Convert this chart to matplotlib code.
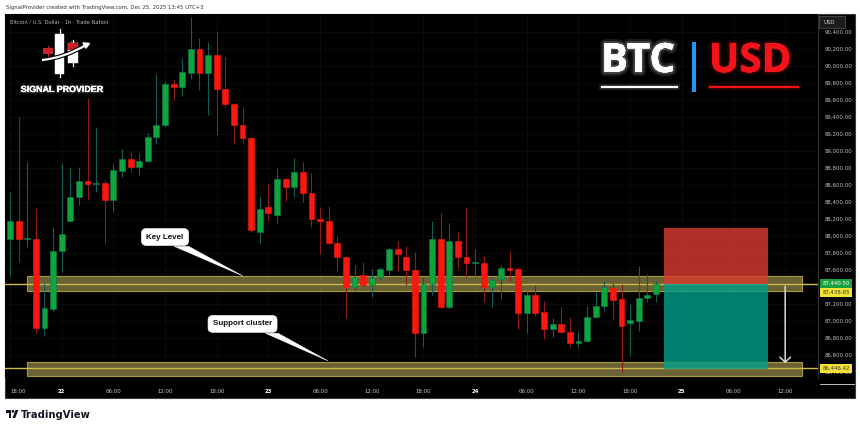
import numpy as np
import matplotlib
matplotlib.use("Agg")
import matplotlib.pyplot as plt
import matplotlib.transforms as mtransforms
import matplotlib.patheffects as pe
from matplotlib.patches import Rectangle, Polygon, Circle, PathPatch, FancyArrowPatch
from matplotlib.lines import Line2D
from matplotlib.path import Path

# ---------------- data (BTC/USD, 1h, from Dec 21 18:00) ----------------
opens = [87965, 88176, 87960, 87965, 86918, 87141, 87824, 88176, 88459, 88647,
         88612, 88624, 88424, 88765, 88906, 88812, 88882, 89165, 89306, 89788,
         89753, 89918, 90200, 89918, 90129, 89729, 89553, 89306, 89153, 88047,
         88341, 88247, 88671, 88576, 88753, 88506, 88200, 88176, 87918, 87753,
         87400, 87541, 87424, 87518, 87600, 87847, 87753, 87600, 86859, 87435,
         87965, 87165, 87941, 87753, 87682, 87682, 87400, 87494, 87624, 87612,
         87094, 87306, 87106, 86906, 86965, 86871, 86741, 86765, 87047, 87176,
         87388, 87259, 86976, 87000, 87271, 87318]
closes = [88176, 87965, 87975, 86918, 87153, 87824, 88024, 88459, 88647, 88612,
          88624, 88424, 88776, 88906, 88812, 88882, 89165, 89306, 89788, 89753,
          89929, 90200, 89918, 90129, 89729, 89553, 89306, 89153, 88071, 88318,
          88271, 88671, 88576, 88753, 88506, 88200, 88182, 87918, 87753, 87400,
          87518, 87424, 87506, 87612, 87847, 87788, 87600, 86859, 87435, 87965,
          87165, 87941, 87753, 87682, 87694, 87400, 87482, 87624, 87600, 87094,
          87306, 87094, 86906, 86965, 86871, 86741, 86765, 87047, 87176, 87400,
          87247, 86941, 87012, 87271, 87306, 87440.5]
highs = [88518, 89400, 88871, 88329, 87447, 88106, 88859, 88812, 88812, 89624,
         89282, 88659, 88859, 89024, 88988, 88976, 89212, 89906, 89824, 89847,
         90094, 90576, 90329, 90282, 90412, 90106, 89565, 89518, 89165, 88459,
         88624, 88800, 88682, 88918, 88871, 88741, 88341, 88353, 88000, 87765,
         87659, 87694, 87612, 87635, 87871, 87941, 87882, 87812, 87518, 88176,
         88271, 88153, 88047, 88341, 87847, 87765, 87518, 87659, 87824, 87635,
         87353, 87424, 87235, 87035, 87165, 87047, 86871, 87176, 87341, 87471,
         87447, 87435, 87188, 87647, 87553, 87471]
lows = [87529, 87694, 87871, 86859, 86823, 87106, 87576, 88165, 88365, 88424,
        88518, 87918, 88282, 88694, 88753, 88718, 88871, 89082, 89282, 89600,
        89647, 89847, 89718, 89424, 89188, 89518, 89082, 89094, 88047, 87918,
        88188, 88153, 88412, 88459, 88400, 88106, 87788, 87906, 87588, 87035,
        87353, 87400, 87282, 87482, 87541, 87588, 87424, 86576, 86694, 87306,
        87153, 87141, 87624, 87518, 87518, 87224, 87165, 87259, 87471, 86906,
        86859, 87059, 86788, 86812, 86859, 86694, 86694, 86753, 87035, 87118,
        87024, 86400, 86588, 86882, 87224, 87224]

time_tick_hours = [0, 6, 12, 18, 24, 30, 36, 42, 48, 54, 60, 66, 72, 78, 84, 90]
time_tick_labels = ["18:00", "22", "06:00", "12:00", "18:00", "23", "06:00", "12:00",
                    "18:00", "24", "06:00", "12:00", "18:00", "25", "06:00", "12:00"]
day_labels = ["22", "23", "24", "25"]
price_ticks = list(range(86400, 90401, 200))

key_level = 87438.65
key_zone = [87353, 87529]
support_level = 86446.42
support_zone = [86353, 86518]
last_price = 87440.50
zone_hours = [2, 92]

pos_hours = [75.9, 88.0]
pos_entry = 87440.50
pos_stop = 88095
pos_target = 86440
arrow_hour = 90
arrow_end = 86470

key_label = "Key Level"
key_label_at = [18.0, 87988]
key_tip = [27.05, 87529]
support_label = "Support cluster"
support_label_at = [27.0, 86965]
support_tip = [36.95, 86529]

# ---------------- figure ----------------
W, H = 860, 430
fig = plt.figure(figsize=(W / 100, H / 100), dpi=100, facecolor="white")
pxT = mtransforms.Affine2D().scale(1 / W, -1 / H).translate(0, 1) + fig.transFigure


def ftext(x, y, s, **kw):
    return fig.text(x / W, 1 - y / H, s, **kw)


# dark chart panel
fig.add_artist(Rectangle((5, 14), 850, 384, transform=pxT, facecolor="black",
                         edgecolor="#3a3a3a", lw=0.8, zorder=-1))

ax = fig.add_axes([5 / W, 1 - 378 / H, 813 / W, 364 / H])
ax.set_facecolor("black")
ax.set_xlim(-0.58, 93.81)
ax.set_ylim(86329, 90612)
for s in ["top", "left", "bottom"]:
    ax.spines[s].set_visible(False)
ax.spines["right"].set_color("#2e2e2e")
ax.spines["right"].set_linewidth(0.8)
ax.grid(True, color="#0d0d0d", lw=0.6)
ax.set_axisbelow(True)

# axes ticks
ax.yaxis.tick_right()
ax.set_yticks(price_ticks)
ax.set_yticklabels([f"{p:,.2f}" for p in price_ticks])
ax.set_xticks(time_tick_hours)
ax.set_xticklabels(time_tick_labels)
ax.tick_params(axis="y", length=0, pad=5, labelsize=3.9, labelcolor="#c4c4c4")
ax.tick_params(axis="x", length=0, pad=8, labelsize=3.9, labelcolor="#c4c4c4")
xlabs = ax.get_xticklabels()
for lab in xlabs:
    if lab.get_text() in day_labels:
        lab.set_color("white")
        lab.set_fontweight("bold")
xlabs[0].set_horizontalalignment("left")

# zones and levels
ax.add_patch(Rectangle((zone_hours[0], key_zone[0]), zone_hours[1] - zone_hours[0],
                       key_zone[1] - key_zone[0], facecolor="#6a6234",
                       edgecolor="#a99b3c", lw=0.8, zorder=1))
ax.add_patch(Rectangle((zone_hours[0], support_zone[0]), zone_hours[1] - zone_hours[0],
                       support_zone[1] - support_zone[0], facecolor="#6a6234",
                       edgecolor="#a99b3c", lw=0.8, zorder=1))
ax.axhline(key_level, color="#cdbb4c", lw=1.0, zorder=1.5)
ax.axhline(support_level, color="#cdbb4c", lw=1.0, zorder=1.5)

# candles
o = np.array(opens, float)
c = np.array(closes, float)
hi = np.array(highs, float)
lo = np.array(lows, float)
x = np.arange(len(o))
up = c >= o
body_col = np.where(up, "#10a53a", "#f8180f")
edge_col = np.where(up, "#0d7a55", "#f8180f")
wick_col = np.where(up, "#135e57", "#8e1c17")
ax.vlines(x, lo, hi, colors=wick_col, lw=0.8, zorder=3)
heights = np.maximum(np.abs(c - o), 12)
ax.bar(x, heights, bottom=np.minimum(o, c), width=0.68, color=body_col,
       edgecolor=edge_col, lw=0.4, zorder=4)

# short position tool
ax.add_patch(Rectangle((pos_hours[0], pos_entry), pos_hours[1] - pos_hours[0],
                       pos_stop - pos_entry, facecolor="#dc3a30", alpha=0.8,
                       edgecolor="none", zorder=2))
ax.add_patch(Rectangle((pos_hours[0], pos_target), pos_hours[1] - pos_hours[0],
                       pos_entry - pos_target, facecolor="#00a08a", alpha=0.8,
                       edgecolor="none", zorder=2))
ax.add_patch(FancyArrowPatch((arrow_hour, pos_entry), (arrow_hour, arrow_end),
                             arrowstyle="->,head_length=3.6,head_width=3.8",
                             color="#d9d9d9", lw=1.1, zorder=6))

# callouts
for label, at, tip, base in [(key_label, key_label_at, key_tip, 1.7),
                             (support_label, support_label_at, support_tip, 1.5)]:
    ax.text(at[0], at[1], label, ha="center", va="center", fontsize=5.8,
            fontweight="bold", family="Liberation Sans", color="#111111",
            bbox=dict(boxstyle="round,pad=0.6,rounding_size=0.55", fc="white",
                      ec="white", lw=0.5), zorder=8)
    bx = at[0] + (1.9 if label == key_label else 3.4)
    by = at[1] - 110
    ax.add_patch(Polygon([(bx - base / 2, by), (bx + base / 2, by), (tip[0], tip[1])],
                         closed=True, facecolor="white", edgecolor="white", lw=0.3,
                         zorder=7))

# price tags on the right scale
blend = mtransforms.blended_transform_factory(ax.transAxes, ax.transData)
tag_x0 = (820 - 5) / 813
tag_w = 32 / 813
for price, shown, fc, tc in [(last_price, last_price, "#17a23c", "#ffffff"),
                             (key_level, key_level - 104, "#f1e235", "#3a3a2a"),
                             (support_level, support_level, "#f1e235", "#3a3a2a")]:
    ax.add_patch(Rectangle((tag_x0, shown - 53), tag_w, 106, transform=blend,
                           facecolor=fc, edgecolor="none", clip_on=False, zorder=9))
    ax.text(tag_x0 + tag_w / 2, shown, f"{price:,.2f}", transform=blend, ha="center",
            va="center", fontsize=3.9, color=tc, clip_on=False, zorder=10)

# USD box on price scale
fig.add_artist(Rectangle((819, 16), 26, 12, transform=pxT, facecolor="#1c1c1c",
                         edgecolor="#4a4a4a", lw=0.6, zorder=5))
ftext(823, 22.5, "USD", fontsize=3.9, color="#d0d0d0", va="center", ha="left", zorder=6)
fig.add_artist(Line2D([820, 854], [384, 384], transform=pxT, color="#bdbdbd", lw=0.7, zorder=5))

# header texts
ftext(6, 7, "SignalProvider created with TradingView.com, Dec 25, 2025 13:45 UTC+3",
      fontsize=3.9, color="#333333", va="center", ha="left")
ftext(10, 22, "Bitcoin / U.S. Dollar \u00b7 1h \u00b7 Trade Nation", fontsize=3.7,
      color="#b5b5b5", va="center", ha="left")

# Signal Provider logo
for (bx0, by0, bw, bh, wx, wy0, wy1) in [(55, 34, 9, 40, 59.5, 29, 77),
                                         (68, 43, 10, 20, 73, 40, 66)]:
    fig.add_artist(Line2D([wx, wx], [wy0, wy1], transform=pxT, color="white", lw=0.9, zorder=5))
    fig.add_artist(Rectangle((bx0, by0), bw, bh, transform=pxT, facecolor="white",
                             edgecolor="white", lw=0.3, zorder=5))
fig.add_artist(Line2D([48, 48], [46, 56], transform=pxT, color="#d4202a", lw=0.7, zorder=5))
fig.add_artist(Rectangle((43, 48), 10, 6, transform=pxT, facecolor="#c8202a", zorder=5.5))
fig.add_artist(Line2D([71, 71], [41, 44], transform=pxT, color="#d4202a", lw=0.7, zorder=5))
fig.add_artist(Rectangle((68, 43), 10, 7, transform=pxT, facecolor="#c8202a", zorder=5.5))
arrow_path = Path([(42, 60), (64, 58), (86, 45)], [Path.MOVETO, Path.CURVE3, Path.CURVE3])
fig.add_artist(PathPatch(arrow_path, transform=pxT, facecolor="none", edgecolor="white",
                         lw=1.6, zorder=6,
                         path_effects=[pe.withStroke(linewidth=3.2, foreground="black")]))
fig.add_artist(Polygon([(89.5, 43.5), (83, 42.8), (85.8, 48.2)], closed=True,
                       transform=pxT, facecolor="white", edgecolor="white", zorder=6))
ftext(62, 89.5, "SIGNAL PROVIDER", fontsize=6.4, fontweight="bold",
      family="Liberation Sans", color="white", ha="center", va="center", zorder=6,
      path_effects=[pe.withStroke(linewidth=2.0, foreground=(1, 1, 1, 0.18)), pe.Normal()])

# BTC | USD title
glow_w = [pe.withStroke(linewidth=6, foreground=(1, 1, 1, 0.10)),
          pe.withStroke(linewidth=3, foreground=(1, 1, 1, 0.18)), pe.Normal()]
glow_r = [pe.withStroke(linewidth=5, foreground=(1, 0.1, 0.1, 0.08)),
          pe.withStroke(linewidth=2.5, foreground=(1, 0.1, 0.1, 0.14)), pe.Normal()]
ftext(601, 72, "BTC", fontsize=29, fontweight="bold", family="Open Sans",
      color="white", ha="left", va="baseline", zorder=6, path_effects=glow_w)
ftext(709, 72, "USD", fontsize=29, fontweight="bold", family="Open Sans",
      color="#f3131b", ha="left", va="baseline", zorder=6, path_effects=glow_r)
fig.add_artist(Rectangle((692, 42), 4, 50, transform=pxT, facecolor="#2196f3", zorder=6))
fig.add_artist(Line2D([602, 677], [87, 87], transform=pxT, color="white", lw=1.5, zorder=6,
                      path_effects=[pe.withStroke(linewidth=4, foreground=(1, 1, 1, 0.15)), pe.Normal()]))
fig.add_artist(Line2D([710, 798], [87, 87], transform=pxT, color="#f3131b", lw=1.5, zorder=6,
                      path_effects=[pe.withStroke(linewidth=4, foreground=(1, 0.1, 0.1, 0.15)), pe.Normal()]))

# TradingView footer
fig.add_artist(Rectangle((6, 410), 5, 3, transform=pxT, facecolor="#131722", zorder=5))
fig.add_artist(Rectangle((8.5, 410), 2.5, 8, transform=pxT, facecolor="#131722", zorder=5))
fig.add_artist(Circle((13, 411.4), 1.4, transform=pxT, facecolor="#131722", zorder=5))
fig.add_artist(Polygon([(12.4, 418), (15.2, 418), (18.4, 410), (15.6, 410)], closed=True,
                       transform=pxT, facecolor="#131722", zorder=5))
ftext(21, 418, "TradingView", fontsize=7.2, fontweight="bold", color="#131722",
      ha="left", va="baseline")

fig.savefig("out.png", dpi=100, facecolor="white")
